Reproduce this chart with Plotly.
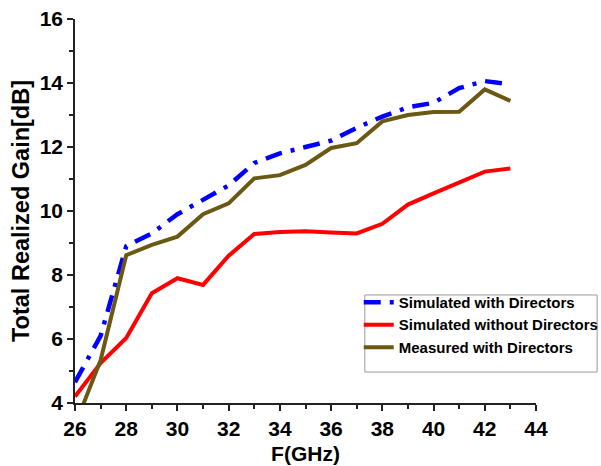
import plotly.graph_objects as go

# Frequency sweep (GHz)
freq = [26, 27, 28, 29, 30, 31, 32, 33, 34, 35, 36, 37, 38, 39, 40, 41, 42, 43]

# Total realized gain (dB)
sim_with_directors = [4.65, 6.1, 8.9, 9.3, 9.9, 10.35, 10.8, 11.5, 11.8, 12.0, 12.2,
                      12.6, 12.95, 13.24, 13.38, 13.84, 14.06, 13.96]
sim_without_directors = [4.2, 5.25, 6.03, 7.43, 7.9, 7.69, 8.6, 9.28, 9.34, 9.37, 9.33,
                         9.3, 9.6, 10.2, 10.55, 10.9, 11.23, 11.33]
meas_with_directors = [3.3, 5.34, 8.62, 8.94, 9.2, 9.9, 10.24, 11.02, 11.12, 11.44, 11.97,
                       12.12, 12.8, 13.0, 13.09, 13.1, 13.8, 13.44]

series_names = ["Simulated with Directors", "Simulated without Directors", "Measured with Directors"]

x_ticks = [26, 28, 30, 32, 34, 36, 38, 40, 42, 44]
y_ticks = [4, 6, 8, 10, 12, 14, 16]

FONT = "Liberation Sans, Arial, sans-serif"

fig = go.Figure()
fig.add_trace(go.Scatter(
    x=freq, y=sim_with_directors, mode="lines", name=series_names[0],
    line=dict(color="#0000FF", width=4.5, dash="17px,9px,4px,9px"),
))
fig.add_trace(go.Scatter(
    x=freq, y=sim_without_directors, mode="lines", name=series_names[1],
    line=dict(color="#FF0000", width=4),
))
fig.add_trace(go.Scatter(
    x=freq, y=meas_with_directors, mode="lines", name=series_names[2],
    line=dict(color="#6B5813", width=4),
))

axis_common = dict(
    showline=True, linecolor="#222222", linewidth=1.5,
    ticks="outside", ticklen=6, tickwidth=1.5, tickcolor="#222222",
    showgrid=False, zeroline=False, mirror=False,
    tickfont=dict(family=FONT, size=21, color="black", weight="bold"),
    minor=dict(ticks="outside", ticklen=4, tickwidth=1.5, tickcolor="#222222", dtick=1),
)

fig.update_xaxes(
    range=[26, 44], tickvals=x_ticks, ticktext=[str(v) for v in x_ticks],
    title=dict(text="<b>F(GHz)</b>", font=dict(family=FONT, size=21, color="black"), standoff=7),
    **axis_common,
)
fig.update_yaxes(
    range=[4, 16], tickvals=y_ticks, ticktext=[str(v) for v in y_ticks],
    title=dict(text="<b>Total Realized Gain[dB]</b>", font=dict(family=FONT, size=23.5, color="black"),
               standoff=3),
    **axis_common,
)

# Legend frame drawn as a rectangle so the box keeps its spare room below the entries
fig.add_shape(type="rect", xref="paper", yref="paper",
              x0=0.6287, x1=1.1326, y0=0.0806, y1=0.2813,
              line=dict(color="#9a9a9a", width=1), fillcolor="rgba(0,0,0,0)")

fig.update_layout(
    width=601, height=466,
    margin=dict(l=74.5, r=64.5, t=19, b=63, autoexpand=False),
    paper_bgcolor="white", plot_bgcolor="white",
    showlegend=True,
    legend=dict(
        x=0.6155, y=0.305, xanchor="left", yanchor="top",
        bgcolor="rgba(0,0,0,0)", borderwidth=0,
        font=dict(family=FONT, size=15, color="black", weight="bold"),
        itemwidth=30, tracegroupgap=0,
    ),
)

fig.write_html("out.html")
